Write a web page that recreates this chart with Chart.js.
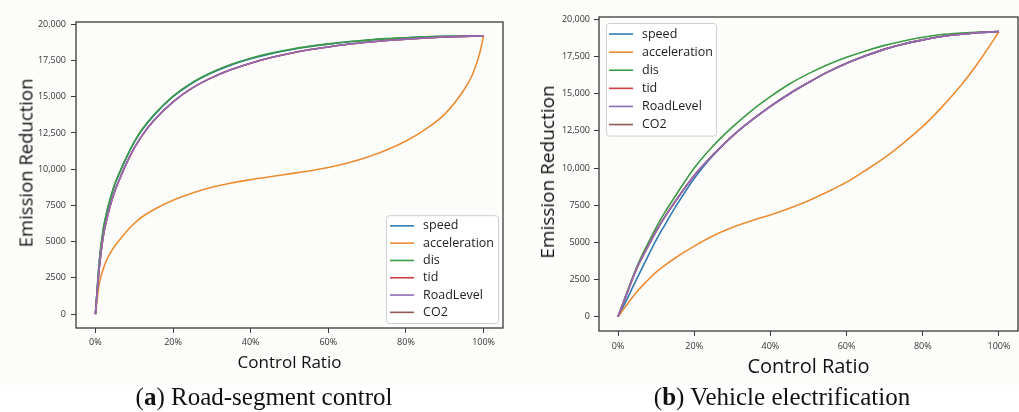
<!DOCTYPE html>
<html>
<head>
<meta charset="utf-8">
<script src="https://cdn.jsdelivr.net/npm/chart.js@4.4.0/dist/chart.umd.min.js"></script>
<style>
  body { margin: 0; background: #fff; width: 1019px; height: 412px; position: relative; overflow: hidden; }
  .panel { position: absolute; top: 0; height: 385px; background: #fcfcfa; }
  .ytitle { position: absolute; font-family: "Open Sans", sans-serif; color: #111; white-space: nowrap;
            transform: translate(-50%, -50%) rotate(-90deg); }
  .caption { position: absolute; font-family: "Liberation Serif", serif; font-size: 25px; color: #111;
             white-space: nowrap; transform: translate(-50%, -50%); }
</style>
</head>
<body>
<div class="panel" style="left:0;width:510px"><canvas id="chartA"></canvas></div>
<div class="panel" style="left:510px;width:509px"><canvas id="chartB"></canvas></div>
<div class="ytitle" style="left:25px;top:163px;font-size:18.5px">Emission Reduction</div>
<div class="ytitle" style="left:547px;top:172px;font-size:19px">Emission Reduction</div>
<div class="caption" style="left:264px;top:397px">(<b>a</b>) Road-segment control</div>
<div class="caption" style="left:782px;top:397px">(<b>b</b>) Vehicle electrification</div>
<script>
const seriesNames = ['speed', 'acceleration', 'dis', 'tid', 'RoadLevel', 'CO2'];
const seriesColors = ['#2f7bb3', '#ec8c33', '#3a9a44', '#cc3d45', '#8f6bb8', '#8c5b4e'];

const xTicks = [0, 20, 40, 60, 80, 100];
const xTickLabels = ['0%', '20%', '40%', '60%', '80%', '100%'];
const yTicks = [0, 2500, 5000, 7500, 10000, 12500, 15000, 17500, 20000];
const yTickLabels = ['0', '2500', '5000', '7500', '10,000', '12,500', '15,000', '17,500', '20,000'];

// (a) road-segment control, control ratio in %
const ratioA = [0, 1, 2, 3, 4, 5, 6, 8, 10, 12, 15, 20, 25, 30, 35, 40, 45, 50, 55, 60, 65, 70, 75, 80, 85, 90, 95, 97, 98, 99, 100];
const speedA = [0, 3600, 5800, 7100, 8100, 8950, 9600, 10800, 11850, 12700, 13700, 15000, 15950, 16650, 17200, 17620, 17960, 18230, 18450, 18630, 18780, 18900, 19000, 19070, 19130, 19170, 19195, 19202, 19205, 19208, 19210];
const accelA = [0, 2100, 3100, 3800, 4300, 4700, 5050, 5700, 6250, 6700, 7200, 7850, 8350, 8750, 9050, 9280, 9480, 9680, 9880, 10120, 10430, 10820, 11320, 11950, 12750, 13800, 15500, 16450, 17150, 18000, 19200];
const disA = [0, 3640, 5840, 7140, 8140, 8990, 9640, 10840, 11890, 12740, 13740, 15040, 15990, 16690, 17240, 17660, 17995, 18260, 18475, 18650, 18795, 18912, 19010, 19078, 19136, 19174, 19197, 19203, 19206, 19208, 19210];
const tidA = [0, 3200, 5350, 6650, 7650, 8500, 9170, 10400, 11450, 12320, 13340, 14650, 15610, 16320, 16880, 17320, 17690, 17990, 18240, 18440, 18620, 18760, 18880, 18980, 19060, 19120, 19170, 19188, 19195, 19203, 19210];
const roadA = [0, 3200, 5350, 6650, 7650, 8500, 9170, 10400, 11450, 12320, 13340, 14650, 15610, 16320, 16880, 17320, 17690, 17990, 18240, 18440, 18620, 18760, 18880, 18980, 19060, 19120, 19170, 19188, 19195, 19203, 19210];
const co2A = [0, 3200, 5350, 6650, 7650, 8500, 9170, 10400, 11450, 12320, 13340, 14650, 15610, 16320, 16880, 17320, 17690, 17990, 18240, 18440, 18620, 18760, 18880, 18980, 19060, 19120, 19170, 19188, 19195, 19203, 19210];

// (b) vehicle electrification
const ratioB = [0, 2, 5, 8, 10, 12, 15, 20, 25, 30, 35, 40, 45, 50, 55, 60, 65, 70, 75, 80, 85, 90, 95, 100];
const speedB = [0, 1000, 2600, 4150, 5150, 6050, 7350, 9300, 10860, 12140, 13200, 14150, 15000, 15750, 16450, 17050, 17550, 18000, 18350, 18620, 18850, 19000, 19120, 19180];
const accelB = [0, 700, 1700, 2500, 3000, 3400, 3950, 4750, 5450, 6000, 6450, 6850, 7300, 7800, 8400, 9050, 9850, 10700, 11700, 12800, 14100, 15550, 17250, 19170];
const disB = [0, 1400, 3400, 5000, 6000, 6900, 8100, 10000, 11500, 12750, 13850, 14800, 15650, 16350, 16950, 17450, 17880, 18250, 18550, 18800, 18980, 19080, 19150, 19180];
const tidB = [0, 1350, 3300, 4800, 5750, 6600, 7750, 9500, 10900, 12150, 13200, 14150, 15000, 15750, 16450, 17050, 17550, 18000, 18350, 18620, 18850, 19000, 19120, 19180];
const roadB = [0, 1350, 3300, 4800, 5750, 6600, 7750, 9500, 10900, 12150, 13200, 14150, 15000, 15750, 16450, 17050, 17550, 18000, 18350, 18620, 18850, 19000, 19120, 19180];
const co2B = [0, 1350, 3300, 4800, 5750, 6600, 7750, 9500, 10900, 12150, 13200, 14150, 15000, 15750, 16450, 17050, 17550, 18000, 18350, 18620, 18850, 19000, 19120, 19180];

// draw order: lower number ends up on top
const drawOrder = [5, 4, 3, 2, 1, 6];

// box around the plot area, like a matplotlib frame
const framePlugin = {
    id: 'frame',
    afterDatasetsDraw(chart) {
        const {ctx, chartArea: a} = chart;
        ctx.save();
        ctx.strokeStyle = '#3a3a3a';
        ctx.lineWidth = 1.3;
        ctx.strokeRect(a.left, a.top, a.right - a.left, a.bottom - a.top);
        ctx.restore();
    }
};

// legend drawn inside the plot area
const boxLegend = {
    id: 'boxLegend',
    afterDraw(chart, args, opts) {
        const {ctx, chartArea: a} = chart;
        const sets = chart.data.datasets;
        ctx.save();
        ctx.font = opts.fontSize + 'px "Open Sans"';
        let textW = 0;
        sets.forEach(ds => { textW = Math.max(textW, ctx.measureText(ds.label).width); });
        const w = opts.pad + opts.lineLen + opts.gap + textW + opts.pad;
        const h = sets.length * opts.rowH + opts.padY * 2;
        const x = opts.corner === 'br' ? a.right - opts.margin - w : a.left + opts.margin;
        const y = opts.corner === 'br' ? a.bottom - opts.margin - h : a.top + opts.marginY;
        ctx.fillStyle = 'rgba(255,255,255,0.85)';
        ctx.strokeStyle = '#cfcfcf';
        ctx.lineWidth = 1;
        ctx.beginPath();
        ctx.roundRect(x + 0.5, y + 0.5, w, h, 3);
        ctx.fill();
        ctx.stroke();
        ctx.textBaseline = 'middle';
        sets.forEach((ds, i) => {
            const cy = y + opts.padY + opts.rowH * (i + 0.5);
            ctx.strokeStyle = ds.borderColor;
            ctx.lineWidth = 1.6;
            ctx.beginPath();
            ctx.moveTo(x + opts.pad, cy);
            ctx.lineTo(x + opts.pad + opts.lineLen, cy);
            ctx.stroke();
            ctx.fillStyle = '#222';
            ctx.fillText(ds.label, x + opts.pad + opts.lineLen + opts.gap, cy);
        });
        ctx.restore();
    }
};

function makeDatasets(xs, ys) {
    return ys.map((vals, i) => ({
        label: seriesNames[i],
        data: vals.map((v, j) => ({x: xs[j], y: v})),
        borderColor: seriesColors[i],
        borderWidth: 1.6,
        pointRadius: 0,
        cubicInterpolationMode: 'monotone',
        order: drawOrder[i]
    }));
}

function makeChart(id, datasets, cfg) {
    return new Chart(document.getElementById(id), {
        type: 'line',
        data: {datasets: datasets},
        plugins: [framePlugin, boxLegend],
        options: {
            responsive: true,
            maintainAspectRatio: false,
            animation: false,
            layout: {padding: {top: cfg.top, right: cfg.right, left: 0, bottom: 0}},
            plugins: {
                legend: {display: false},
                tooltip: {enabled: false},
                boxLegend: cfg.legend
            },
            scales: {
                x: {
                    type: 'linear',
                    min: -5,
                    max: 105,
                    afterBuildTicks: s => { s.ticks = xTicks.map(v => ({value: v})); },
                    afterFit: s => { s.height = cfg.xHeight; },
                    border: {display: false},
                    grid: {drawOnChartArea: false, tickLength: 5, color: '#3a3a3a', tickWidth: 1},
                    ticks: {
                        maxRotation: 0,
                        padding: cfg.xPad,
                        color: '#333',
                        font: {family: 'Open Sans', size: 9},
                        callback: v => xTickLabels[xTicks.indexOf(v)]
                    },
                    title: {
                        display: true,
                        text: 'Control Ratio',
                        color: '#111',
                        font: {family: 'Open Sans', size: cfg.xTitleSize},
                        padding: {top: 0, bottom: cfg.xTitlePad}
                    }
                },
                y: {
                    type: 'linear',
                    min: -960,
                    max: 20160,
                    afterBuildTicks: s => { s.ticks = yTicks.map(v => ({value: v})); },
                    afterFit: s => { s.width = cfg.yWidth; },
                    border: {display: false},
                    grid: {drawOnChartArea: false, tickLength: 5, color: '#3a3a3a', tickWidth: 1},
                    ticks: {
                        padding: cfg.yPad,
                        color: '#333',
                        font: {family: 'Open Sans', size: 9},
                        callback: v => yTickLabels[yTicks.indexOf(v)]
                    }
                }
            }
        }
    });
}

makeChart('chartA', makeDatasets(ratioA, [speedA, accelA, disA, tidA, roadA, co2A]), {
    top: 22, right: 7, xHeight: 57, yWidth: 76, xPad: 4, yPad: 5,
    xTitleSize: 17, xTitlePad: 12,
    legend: {corner: 'br', margin: 5, marginY: 5, pad: 4, padY: 2, lineLen: 24, gap: 9, rowH: 17.3, fontSize: 12.5}
});

makeChart('chartB', makeDatasets(ratioB, [speedB, accelB, disB, tidB, roadB, co2B]), {
    top: 17, right: 1, xHeight: 54, yWidth: 89, xPad: 5, yPad: 4,
    xTitleSize: 20, xTitlePad: 6,
    legend: {corner: 'tl', margin: 7, marginY: 6, pad: 3, padY: 2, lineLen: 24, gap: 9, rowH: 18.1, fontSize: 12.5}
});
</script>
</body>
</html>
